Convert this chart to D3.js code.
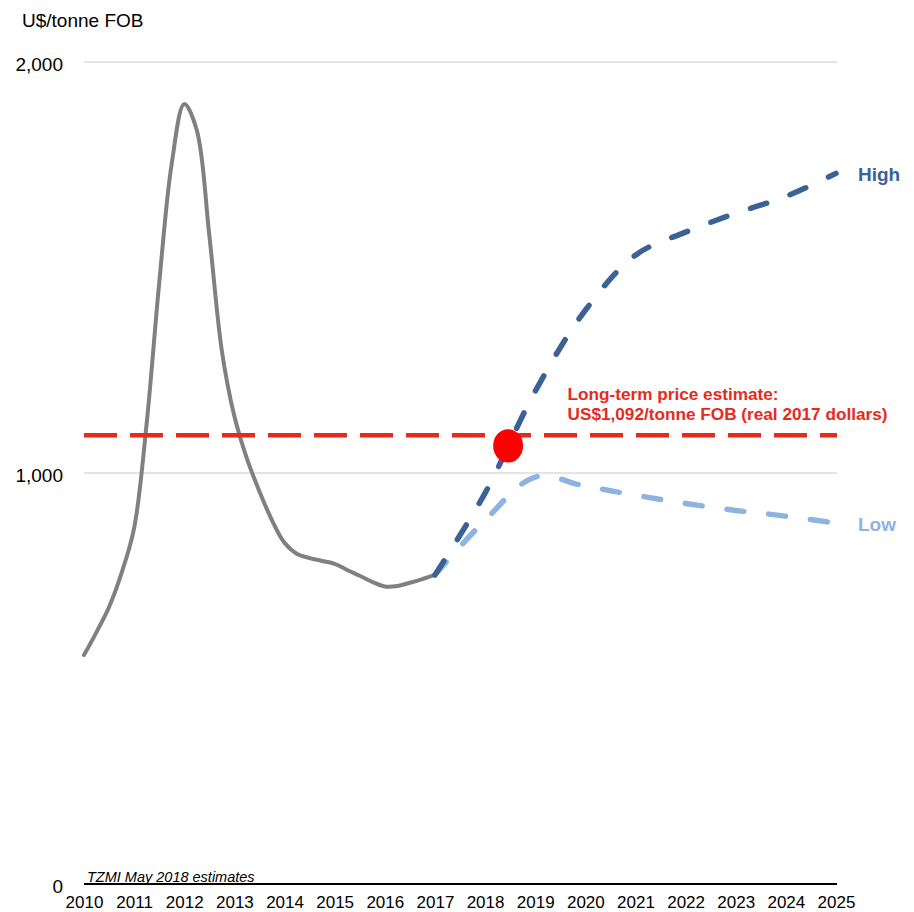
<!DOCTYPE html>
<html>
<head>
<meta charset="utf-8">
<script src="https://cdn.jsdelivr.net/npm/d3@7"></script>
<style>
  html, body { margin: 0; padding: 0; background: #fff; }
  svg { display: block; font-family: "Liberation Sans", Arial, sans-serif; }
</style>
</head>
<body>
<svg id="chart" width="914" height="912"></svg>
<script>
// ---- data ----
const historyYears = [2010, 2010.25, 2010.5, 2010.75, 2011, 2011.25, 2011.5, 2011.75,
  2012, 2012.25, 2012.5, 2012.75, 2013, 2013.25, 2013.5, 2013.75,
  2014, 2014.25, 2014.5, 2014.75, 2015, 2015.25, 2015.5, 2015.75,
  2016, 2016.25, 2016.5, 2016.75, 2017];
const historyPrices = [557, 613, 674, 757, 866, 1121, 1462, 1753,
  1898, 1834, 1578, 1297, 1138, 1035, 955, 885,
  830, 803, 793, 786, 779, 764, 750, 735,
  724, 725, 733, 742, 752];
const forecastYears = [2017, 2018, 2019, 2020, 2021, 2022, 2023, 2024, 2025];
const highPrices = [752, 951, 1199, 1396, 1530, 1586, 1632, 1673, 1729];
const lowPrices  = [752, 885, 990, 968, 946, 926, 909, 895, 878];
const longTermPrice = 1092;
const estimatePoint = [2018.46, 1066];
const xTickYears = [2010, 2011, 2012, 2013, 2014, 2015, 2016, 2017, 2018, 2019, 2020, 2021, 2022, 2023, 2024, 2025];
const yTickValues = [0, 1000, 2000];
const yAxisTitle = "U$/tonne FOB";
const sourceNote = "TZMI May 2018 estimates";
const annotationLines = ["Long-term price estimate:", "US$1,092/tonne FOB (real 2017 dollars)"];
const seriesLabels = ["High", "Low"];

// ---- chart ----
const svg = d3.select("#chart");
const x = d3.scaleLinear().domain([2010, 2025]).range([84, 836]);
const y = d3.scaleLinear().domain([0, 2000]).range([884, 62]);

const colGray = "#808080", colHigh = "#3a6295", colLow = "#8db3e2", colRed = "#e8291c";

// gridlines
svg.append("g").selectAll("line")
  .data(yTickValues.filter(v => v > 0))
  .join("line")
  .attr("x1", x(2010)).attr("x2", x(2025) + 1)
  .attr("y1", d => y(d)).attr("y2", d => y(d))
  .attr("stroke", "#c9c9c9").attr("stroke-width", 1);

// y tick labels
svg.append("g").selectAll("text")
  .data(yTickValues)
  .join("text")
  .attr("x", 63).attr("y", d => y(d) + 8.5)
  .attr("text-anchor", "end")
  .attr("font-size", 19).attr("fill", "#000")
  .text(d => d3.format(",")(d));

// y axis title
svg.append("text").attr("x", 22).attr("y", 26.5)
  .attr("font-size", 19).attr("fill", "#000").text(yAxisTitle);

// x axis
const xAxis = d3.axisBottom(x).tickValues(xTickYears).tickFormat(d3.format("d")).tickSize(0).tickPadding(0);
const gx = svg.append("g").attr("transform", `translate(0,${y(0)})`).call(xAxis);
gx.select(".domain").attr("stroke", "#000").attr("stroke-width", 2).attr("d", `M${x(2010)},0H${x(2025) + 1}`);
gx.selectAll("text").attr("font-size", 17).attr("fill", "#000")
  .attr("font-family", '"Liberation Sans", Arial, sans-serif')
  .attr("dy", null).attr("y", 24);

// source note
svg.append("text").attr("x", 87).attr("y", 881.5)
  .attr("font-size", 14.5).attr("font-style", "italic").attr("fill", "#000").text(sourceNote);

// lines
const line = d3.line().x(d => x(d[0])).y(d => y(d[1])).curve(d3.curveCatmullRom.alpha(0.5));

svg.append("path")
  .attr("d", line(historyYears.map((yr, i) => [yr, historyPrices[i]])))
  .attr("fill", "none").attr("stroke", colGray).attr("stroke-width", 4)
  .attr("stroke-linejoin", "round").attr("stroke-linecap", "round");

svg.append("path")
  .attr("d", line(forecastYears.map((yr, i) => [yr, lowPrices[i]])))
  .attr("fill", "none").attr("stroke", colLow).attr("stroke-width", 5.5)
  .attr("stroke-dasharray", "17,25").attr("stroke-linecap", "round");

svg.append("path")
  .attr("d", line(forecastYears.map((yr, i) => [yr, highPrices[i]])))
  .attr("fill", "none").attr("stroke", colHigh).attr("stroke-width", 5.5)
  .attr("stroke-dasharray", "17,25").attr("stroke-linecap", "round");

// long-term price line
svg.append("line")
  .attr("x1", x(2010)).attr("x2", x(2025) + 1)
  .attr("y1", y(longTermPrice)).attr("y2", y(longTermPrice))
  .attr("stroke", colRed).attr("stroke-width", 4.5).attr("stroke-dasharray", "33,13");

// estimate dot
svg.append("ellipse")
  .attr("cx", x(estimatePoint[0])).attr("cy", y(estimatePoint[1]))
  .attr("rx", 15).attr("ry", 16.7).attr("fill", "#ff0000");

// annotation
const ann = svg.append("text").attr("font-size", 17.2).attr("font-weight", "bold").attr("fill", colRed);
annotationLines.forEach((t, i) => {
  ann.append("tspan").attr("x", 567.5).attr("y", 400 + i * 20).text(t);
});

// series labels
svg.append("text").attr("x", 858).attr("y", y(highPrices[highPrices.length - 1]) + 7.5)
  .attr("font-size", 19).attr("font-weight", "bold").attr("fill", colHigh).text(seriesLabels[0]);
svg.append("text").attr("x", 858).attr("y", y(lowPrices[lowPrices.length - 1]) + 7.5)
  .attr("font-size", 19).attr("font-weight", "bold").attr("fill", colLow).text(seriesLabels[1]);
</script>
</body>
</html>
